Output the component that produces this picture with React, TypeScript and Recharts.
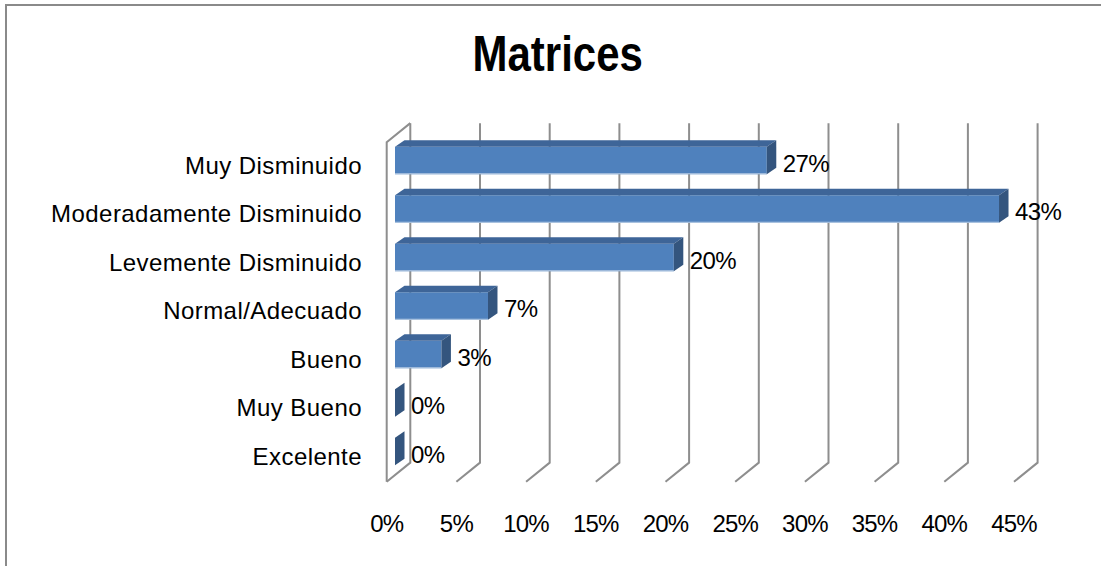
import React from 'react';
import { BarChart, Bar, XAxis, YAxis, CartesianGrid, LabelList } from 'recharts';

// Matrices: share of results per level
const levels = [
  'Muy Disminuido',
  'Moderadamente Disminuido',
  'Levemente Disminuido',
  'Normal/Adecuado',
  'Bueno',
  'Muy Bueno',
  'Excelente',
];
const shares = [0.2667, 0.4333, 0.2, 0.0667, 0.0333, 0, 0];
const percentTicks = [0, 0.05, 0.1, 0.15, 0.2, 0.25, 0.3, 0.35, 0.4, 0.45];

const data = levels.map((name, i) => ({ name, share: shares[i] }));

const FONT = '"Liberation Sans", Arial, sans-serif';
const GRID = '#8e8e8e';

// depth of the pseudo 3D box, relative to the bar plane
const BACK = { dx: 15.3, dy: -12.6 };
const FRONT = { dx: -8.3, dy: 6.5 };
// depth of each bar
const DEPTH = { dx: 9.5, dy: -6.5 };

const pct = (v: number) => `${Math.round(v * 100)}%`;

const GridLine = (props: any) => {
  const { x1, y1, y2, key } = props;
  const bx = x1 + BACK.dx;
  const fx = x1 + FRONT.dx;
  const isWall = x1 < 400;
  return (
    <g key={key}>
      <path
        d={`M${bx},${y1 + BACK.dy} V${y2 + BACK.dy} L${fx},${y2 + FRONT.dy}`}
        stroke={GRID}
        strokeWidth={2}
        fill="none"
      />
      {isWall && (
        <path
          d={`M${fx},${y2 + FRONT.dy} V${y1 + FRONT.dy} L${bx},${y1 + BACK.dy}`}
          stroke={GRID}
          strokeWidth={2}
          fill="none"
        />
      )}
    </g>
  );
};

const Bar3D = (props: any) => {
  const { x, y, width, height } = props;
  const w = Math.max(0, width);
  return (
    <g>
      <rect x={x} y={y} width={w} height={height} fill="#4f81bd" />
      <line x1={x} y1={y + height - 0.5} x2={x + w} y2={y + height - 0.5} stroke="#b9cde5" strokeWidth={1} />
      <polygon
        points={`${x},${y} ${x + DEPTH.dx},${y + DEPTH.dy} ${x + w + DEPTH.dx},${y + DEPTH.dy} ${x + w},${y}`}
        fill="#3e6598"
      />
      <polygon
        points={`${x + w},${y} ${x + w + DEPTH.dx},${y + DEPTH.dy} ${x + w + DEPTH.dx},${y + height + DEPTH.dy} ${x + w},${y + height}`}
        fill="#34557e"
      />
    </g>
  );
};

const ValueLabel = (props: any) => {
  const { x, y, width, height, value } = props;
  return (
    <text
      x={x + Math.max(0, width) + 16}
      y={y + height / 2 + 11}
      fontFamily={FONT}
      fontSize={24}
      letterSpacing={-0.6}
      fill="#000"
    >
      {pct(value)}
    </text>
  );
};

const LevelTick = (props: any) => {
  const { y, payload } = props;
  return (
    <text x={362} y={y + 13.7} textAnchor="end" fontFamily={FONT} fontSize={24} letterSpacing={0.45} fill="#000">
      {payload.value}
    </text>
  );
};

const PercentTick = (props: any) => {
  const { x, payload } = props;
  return (
    <text
      x={x + FRONT.dx}
      y={532}
      textAnchor="middle"
      fontFamily={FONT}
      fontSize={24}
      letterSpacing={-0.8}
      fill="#000"
    >
      {pct(payload.value)}
    </text>
  );
};

export default function App() {
  return (
    <div
      style={{
        position: 'absolute',
        left: 0,
        top: 0,
        width: 1101,
        height: 566,
        overflow: 'hidden',
        background: '#fff',
      }}
    >
      <div
        style={{
          position: 'absolute',
          left: 5,
          top: 4,
          width: 1200,
          height: 700,
          border: `2px solid #8a8a8a`,
        }}
      />
      <div style={{ position: 'absolute', left: 0, top: 0 }}>
        <BarChart
          width={1101}
          height={566}
          data={data}
          layout="vertical"
          margin={{ top: 135.75, right: 78.7, bottom: 30, left: 0 }}
          barSize={27.5}
        >
          <CartesianGrid horizontal={false} vertical={GridLine} />
          <XAxis
            type="number"
            dataKey="share"
            domain={[0, 0.45]}
            ticks={percentTicks}
            interval={0}
            height={60.75}
            axisLine={false}
            tickLine={false}
            tick={PercentTick}
          />
          <YAxis
            type="category"
            dataKey="name"
            width={395}
            interval={0}
            axisLine={false}
            tickLine={false}
            tick={LevelTick}
          />
          <Bar dataKey="share" shape={Bar3D} isAnimationActive={false}>
            <LabelList dataKey="share" content={ValueLabel} />
          </Bar>
        </BarChart>
      </div>
      <svg width={1101} height={90} style={{ position: 'absolute', left: 0, top: 0 }}>
        {/* condensed bold title */}
        <text
          transform="translate(557.7,70.7) scale(0.84,1)"
          x={0}
          y={0}
          textAnchor="middle"
          fontFamily={FONT}
          fontWeight="bold"
          fontSize={50}
          fill="#000"
        >
          Matrices
        </text>
      </svg>
    </div>
  );
}
